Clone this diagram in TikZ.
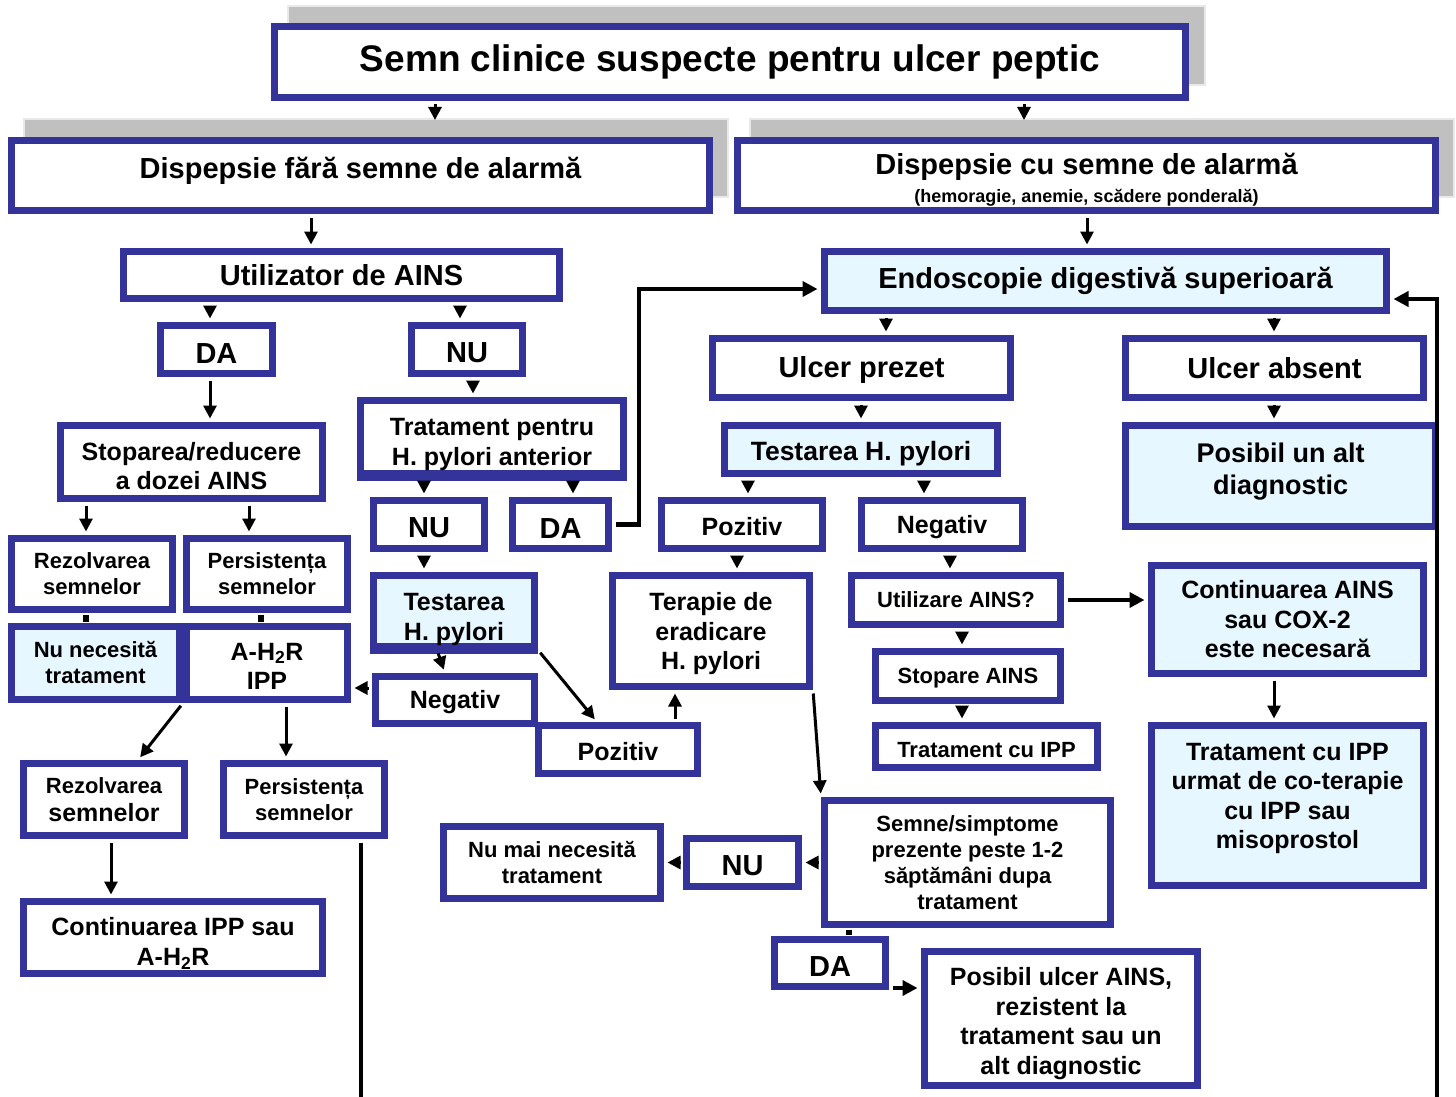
\documentclass[tikz,border=0pt]{standalone}
\usepackage{fontspec}
\setmainfont{Liberation Sans}
\usetikzlibrary{arrows.meta}
\definecolor{boxblue}{RGB}{51,51,153}
\definecolor{lightcyan}{RGB}{230,247,255}
\definecolor{shadowgray}{RGB}{192,192,192}
\newcommand{\sink}[1]{\rule{0pt}{#1}}
\newcommand{\lift}[1]{\rule[-#1]{0pt}{#1}}
\tikzstyle{box} = [rectangle, draw=boxblue, line width=7pt, fill=white, align=center, inner sep=0pt, text=black]
\tikzstyle{bluebox} = [box, fill=lightcyan]
\tikzstyle{shadowbox} = [fill=shadowgray, draw=white!65!shadowgray, line width=1.5pt]
\tikzstyle{titletxt} = [font=\fontsize{37}{42}\selectfont\bfseries]
\tikzstyle{bigtxt} = [font=\fontsize{29}{33}\selectfont\bfseries]
\tikzstyle{midtxt} = [font=\fontsize{25}{29.5}\selectfont\bfseries]
\tikzstyle{smalltxt} = [font=\fontsize{22}{26}\selectfont\bfseries]
\tikzstyle{arrow} = [line width=3pt, -{Triangle[length=13pt,width=13pt]}, shorten <=3.5pt, shorten >=3.5pt]
\tikzstyle{thickarrow} = [line width=4.5pt, -{Triangle[length=15pt,width=15pt]}, shorten >=3.5pt]
\tikzstyle{bar} = [line width=6pt, shorten <=1.5pt, shorten >=1.5pt]

\begin{document}
\begin{tikzpicture}[x=1pt, y=-1pt]
    \useasboundingbox (0,0) rectangle (1456,1097);
    \fill[white] (0,0) rectangle (1456,1097);

    \filldraw[shadowbox] (288,6) rectangle (1205,85);
    \filldraw[shadowbox] (24,119) rectangle (728,197);
    \filldraw[shadowbox] (750,119) rectangle (1454,197);

    \node (Title) [box, titletxt, minimum width=911pt, minimum height=71pt] at (730,62) {Semn clinice suspecte pentru ulcer peptic};
    \node (DispFara) [box, bigtxt, minimum width=698pt, minimum height=70pt] at (360.5,175.5) {Dispepsie fără semne de alarmă\lift{16pt}};
    \node (DispCu) [box, bigtxt, minimum width=698pt, minimum height=70pt] at (1086.5,175.5) {\sink{30pt}Dispepsie cu semne de alarmă\\[-5pt]{\fontsize{18}{20}\selectfont (hemoragie, anemie, scădere ponderală)}};
    \node (Util) [box, bigtxt, minimum width=436pt, minimum height=47pt] at (341.5,275) {Utilizator de AINS};
    \node (Endo) [bluebox, bigtxt, minimum width=562pt, minimum height=59pt] at (1105.5,281) {Endoscopie digestivă superioară};

    \node (DaUtil) [box, bigtxt, minimum width=112pt, minimum height=48pt] at (216.5,349.5) {\sink{27pt}DA};
    \node (NuUtil) [box, bigtxt, minimum width=111pt, minimum height=48pt] at (467,349.5) {\sink{27pt}NU};
    \node (Stop) [box, midtxt, minimum width=262pt, minimum height=73pt] at (191.5,462) {\sink{26.5pt}Stoparea/reducere\\a dozei AINS};
    \node (TratAnt) [box, midtxt, minimum width=263pt, minimum height=73pt] at (492,437) {\sink{32pt}Tratament pentru\\H. pylori anterior};
    \node (NuTrat) [box, bigtxt, minimum width=111pt, minimum height=48pt] at (429,524.5) {\sink{27pt}NU};
    \node (DaTrat) [box, bigtxt, minimum width=96pt, minimum height=48pt] at (560.5,524.5) {\sink{27pt}DA};

    \node (RezA) [box, smalltxt, minimum width=161pt, minimum height=71pt] at (92,574) {Rezolvarea\\semnelor};
    \node (PersA) [box, smalltxt, minimum width=161pt, minimum height=71pt] at (267,574) {Persistența\\semnelor};
    \node (NuNec) [bluebox, smalltxt, minimum width=168pt, minimum height=73pt] at (95.5,663) {Nu necesită\\tratament};
    \node (AhIpp) [box, midtxt, minimum width=161pt, minimum height=73pt] at (267,663) {\sink{24pt}A-H\textsubscript{2}R\\IPP};

    \node (TestA) [bluebox, midtxt, minimum width=161pt, minimum height=71pt] at (454,611) {\sink{34pt}Testarea\\H. pylori};
    \node (NegA) [box, midtxt, minimum width=159pt, minimum height=47pt] at (455,700) {\sink{22pt}Negativ};
    \node (PozA) [box, midtxt, minimum width=159pt, minimum height=48pt] at (618,749.5) {\sink{22pt}Pozitiv};
    \node (Terapie) [box, midtxt, minimum width=197pt, minimum height=111pt] at (711,631) {\sink{24pt}Terapie de\\eradicare\\H. pylori};

    \node (RezB) [box, font=\fontsize{25}{28}\selectfont\bfseries, minimum width=161pt, minimum height=72pt] at (104,799.5) {{\fontsize{22}{26}\selectfont Rezolvarea}\\semnelor};
    \node (PersB) [box, smalltxt, minimum width=161pt, minimum height=72pt] at (304,799.5) {Persistența\\semnelor};
    \node (ContIpp) [box, midtxt, minimum width=299pt, minimum height=72pt] at (173,937.5) {\sink{30pt}Continuarea IPP sau\\A-H\textsubscript{2}R};

    \node (UlcPrez) [box, bigtxt, minimum width=298pt, minimum height=59pt] at (861.5,368) {\sink{25pt}Ulcer prezet};
    \node (UlcAbs) [box, bigtxt, minimum width=298pt, minimum height=59pt] at (1274.5,368) {Ulcer absent};
    \node (TestB) [bluebox, font=\fontsize{26.5}{30}\selectfont\bfseries, minimum width=273pt, minimum height=48pt] at (861,449.5) {\sink{27.5pt}Testarea H. pylori};
    \node (PosAlt) [bluebox, font=\fontsize{27}{32}\selectfont\bfseries, minimum width=310pt, minimum height=101pt] at (1280.5,476) {Posibil un alt\\diagnostic\lift{14pt}};
    \node (PozB) [box, midtxt, minimum width=161pt, minimum height=48pt] at (742,524.5) {\sink{22pt}Pozitiv};
    \node (NegB) [box, midtxt, minimum width=161pt, minimum height=48pt] at (942,524.5) {\sink{24pt}Negativ};

    \node (UtilAins) [box, smalltxt, minimum width=209pt, minimum height=49pt] at (956,600) {Utilizare AINS?};
    \node (ContAins) [bluebox, midtxt, minimum width=272pt, minimum height=108pt] at (1287.5,619.5) {Continuarea AINS\\sau COX-2\\este necesară};
    \node (StopAins) [box, smalltxt, minimum width=185pt, minimum height=49pt] at (968,676) {\sink{19pt}Stopare AINS};
    \node (TratIpp) [box, smalltxt, minimum width=222pt, minimum height=42pt] at (986.5,746.5) {\sink{22pt}Tratament cu IPP};
    \node (TratCo) [bluebox, midtxt, minimum width=272pt, minimum height=160pt] at (1287.5,805.5) {Tratament cu IPP\\urmat de co-terapie\\cu IPP sau\\misoprostol\lift{19pt}};

    \node (Semne) [box, smalltxt, minimum width=286pt, minimum height=124pt] at (967.5,862.5) {Semne/simptome\\prezente peste 1-2\\săptămâni dupa\\tratament};
    \node (NuSemne) [box, bigtxt, minimum width=112pt, minimum height=48pt] at (742.5,862.5) {\sink{27pt}NU};
    \node (NuMai) [box, smalltxt, minimum width=217pt, minimum height=72pt] at (552,862.5) {Nu mai necesită\\tratament};
    \node (DaSemne) [box, bigtxt, minimum width=111pt, minimum height=47pt] at (830,963) {\sink{27pt}DA};
    \node (PosUlc) [box, midtxt, minimum width=273pt, minimum height=134pt] at (1061,1018.5) {\sink{28pt}Posibil ulcer AINS,\\rezistent la\\tratament sau un\\alt diagnostic};

    \foreach \n in {TratAnt, TestA}
        \draw [boxblue, line width=7pt] (\n.south west) -- (\n.south east);

    \coordinate (LoopFoot) at (1437,1097);
    \coordinate (PersFoot) at (361,1097);

    \draw [arrow, shorten >=17pt] (Title.south -| 435,0) -- (DispFara.north -| 435,0);
    \draw [arrow, shorten >=17pt] (Title.south -| 1024,0) -- (DispCu.north -| 1024,0);
    \draw [arrow] (DispFara.south -| 311,0) -- (Util.north -| 311,0);
    \draw [arrow] (DispCu.south -| 1087,0) -- (Endo.north -| 1087,0);
    \draw [arrow] (Util.south -| 210,0) -- (DaUtil.north -| 210,0);
    \draw [arrow] (Util.south -| 460,0) -- (NuUtil.north -| 460,0);
    \draw [arrow] (DaUtil.south -| 210,0) -- (Stop.north -| 210,0);
    \draw [arrow] (NuUtil.south -| 473,0) -- (TratAnt.north -| 473,0);
    \draw [arrow] (Stop.south -| 86,0) -- (RezA.north -| 86,0);
    \draw [arrow] (Stop.south -| 249,0) -- (PersA.north -| 249,0);
    \draw [arrow] (TratAnt.south -| 424,0) -- (NuTrat.north -| 424,0);
    \draw [arrow] (TratAnt.south -| 573,0) -- (DaTrat.north -| 573,0);
    \draw [bar] (RezA.south -| 86,0) -- (NuNec.north -| 86,0);
    \draw [bar] (PersA.south -| 261,0) -- (AhIpp.north -| 261,0);
    \draw [arrow] (NuTrat.south -| 424,0) -- (TestA.north -| 424,0);
    \draw [thickarrow, shorten <=3.5pt] (DaTrat.east) -- ++(27,0) |- ([yshift=-8pt]Endo.west);
    \draw [arrow] (TestA.south -| 437,0) -- (NegA.north -| 445,0);
    \draw [arrow] (TestA.south east) -- (PozA.north -| 597,0);
    \draw [arrow] (NegA.west |- 0,688) -- (AhIpp.east |- 0,688);
    \draw [arrow] (PozA.north -| 675,0) -- (Terapie.south -| 675,0);
    \draw [arrow] (AhIpp.south west) -- (RezB.north -| 138,0);
    \draw [arrow] (AhIpp.south -| 286,0) -- (PersB.north -| 286,0);
    \draw [arrow] (RezB.south -| 111,0) -- (ContIpp.north -| 111,0);
    \draw [line width=4.5pt, shorten <=3.5pt] (PersB.south -| 361,0) -- (PersFoot);

    \draw [arrow] (Endo.south -| 886,0) -- (UlcPrez.north -| 886,0);
    \draw [arrow] (Endo.south -| 1274,0) -- (UlcAbs.north -| 1274,0);
    \draw [arrow] (UlcPrez.south -| 861,0) -- (TestB.north -| 861,0);
    \draw [arrow] (UlcAbs.south -| 1274,0) -- (PosAlt.north -| 1274,0);
    \draw [arrow] (TestB.south -| 748,0) -- (PozB.north -| 748,0);
    \draw [arrow] (TestB.south -| 924,0) -- (NegB.north -| 924,0);
    \draw [arrow] (PozB.south -| 737,0) -- (Terapie.north -| 737,0);
    \draw [arrow] (NegB.south -| 950,0) -- (UtilAins.north -| 950,0);
    \draw [thickarrow, shorten <=3.5pt] (UtilAins.east) -- (ContAins.west |- UtilAins.east);
    \draw [arrow] (UtilAins.south -| 962,0) -- (StopAins.north -| 962,0);
    \draw [arrow] (StopAins.south -| 962,0) -- (TratIpp.north -| 962,0);
    \draw [arrow] (ContAins.south -| 1274,0) -- (TratCo.north -| 1274,0);
    \draw [thickarrow] (LoopFoot) |- ([yshift=-18pt]Endo.east);

    \draw [arrow] (Terapie.south east) -- (Semne.north west);
    \draw [arrow] (Semne.west) -- (NuSemne.east);
    \draw [arrow] (NuSemne.west) -- (NuMai.east);
    \draw [bar] (Semne.south -| 849,0) -- (DaSemne.north -| 849,0);
    \draw [thickarrow, shorten <=3.5pt] (DaSemne.east |- 0,988) -- (PosUlc.west |- 0,988);
\end{tikzpicture}
\end{document}
